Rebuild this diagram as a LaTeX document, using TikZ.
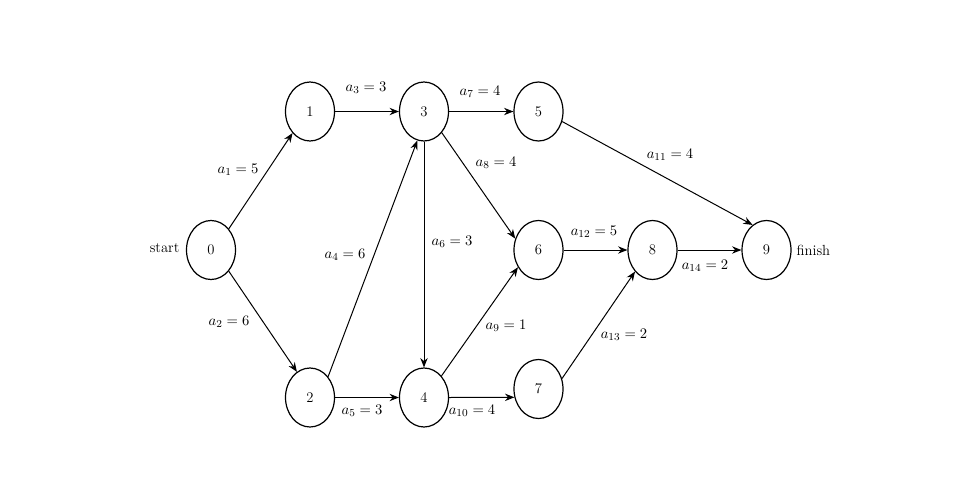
\documentclass[tikz,border=0pt]{standalone}
\usetikzlibrary{arrows.meta,shapes.geometric}
\begin{document}
\begin{tikzpicture}[x=0.75pt,y=-0.75pt,
  vtx/.style={ellipse,draw,line width=0.9pt,inner sep=0pt,minimum width=36.75pt,minimum height=44.25pt,font=\fontsize{11}{13}\selectfont},
  lbl/.style={font=\fontsize{11}{13}\selectfont,inner sep=1pt},
  arc/.style={draw,line width=0.75pt,-{Stealth[length=7pt,width=5.5pt]}}]
\useasboundingbox (0,0) rectangle (961,486);
\node[vtx] (n0) at (211,250) {0};
\node[vtx] (n1) at (310,111.5) {1};
\node[vtx] (n3) at (424,111.5) {3};
\node[vtx] (n5) at (538.5,111.5) {5};
\node[vtx] (n6) at (538.5,250) {6};
\node[vtx] (n8) at (652.5,250) {8};
\node[vtx] (n9) at (766.5,250) {9};
\node[vtx] (n2) at (310,397.5) {2};
\node[vtx] (n4) at (424,397.5) {4};
\node[vtx] (n7) at (538.5,389) {7};

\node[lbl,anchor=east] (ls) at (181,248) {start};
\node[lbl,anchor=west] (lf) at (795,250) {finish};

\path[arc] (n0.50) -- (n1.231);
\path[arc] (n0.-50) -- (n2.117);
\path[arc] (n1.east) -- (n3.west);
\path[arc] (n2.49.5) -- (n3.257);
\path[arc] (n2.east) -- (n4.west);
\path[arc] (n3.south) -- (n4.north);
\path[arc] (n3.east) -- (n5.west);
\path[arc] (n3.-50) -- (n6.154);
\path[arc] (n4.51) -- (n6.220.6);
\path[arc] (n4.east) -- (n7.199.9);
\path[arc] (n5.-23) -- (n9.119.4);
\path[arc] (n6.east) -- (n8.west);
\path[arc] (n7.24) -- (n8.231.8);
\path[arc] (n8.east) -- (n9.west);

\node[lbl] (l1) at (238,170) {$a_1=5$};
\node[lbl] (l2) at (229,322) {$a_2=6$};
\node[lbl] (l3) at (366,88) {$a_3=3$};
\node[lbl] (l4) at (345,255) {$a_4=6$};
\node[lbl] (l5) at (362,411) {$a_5=3$};
\node[lbl] (l6) at (452,242) {$a_6=3$};
\node[lbl] (l7) at (480,92) {$a_7=4$};
\node[lbl] (l8) at (496,163) {$a_8=4$};
\node[lbl] (l9) at (506,326) {$a_9=1$};
\node[lbl] (l10) at (472,411) {$a_{10}=4$};
\node[lbl] (l11) at (670,155) {$a_{11}=4$};
\node[lbl] (l12) at (594,232) {$a_{12}=5$};
\node[lbl] (l13) at (624,335) {$a_{13}=2$};
\node[lbl] (l14) at (705,266) {$a_{14}=2$};
\end{tikzpicture}
\end{document}
